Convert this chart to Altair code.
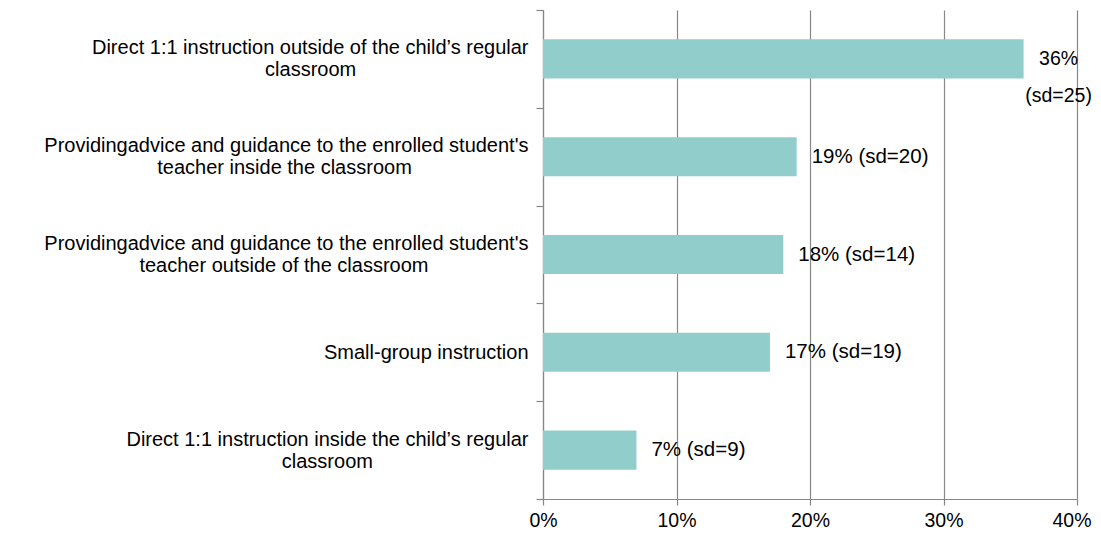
import altair as alt
import pandas as pd

# ---- data ----
label_lines = [
    ["Direct 1:1 instruction outside of the child\u2019s regular", "classroom"],
    ["Providingadvice and guidance to the enrolled student's", "teacher inside the classroom"],
    ["Providingadvice and guidance to the enrolled student's", "teacher outside of the classroom"],
    ["Small-group instruction"],
    ["Direct 1:1 instruction inside the child\u2019s regular", "classroom"],
]
values = [36, 19, 18, 17, 7]          # percent
sds = [25, 20, 14, 19, 9]
x_ticks = [0, 10, 20, 30, 40]

# approximate Arial / Liberation Sans advance widths (1/1000 em), used only to
# centre the second line of each right-aligned axis label under the first one
W = {' ': 278, '\u00a0': 278, 'a': 556, 'b': 556, 'c': 500, 'd': 556, 'e': 556,
     'f': 278, 'g': 556, 'h': 556, 'i': 222, 'j': 222, 'k': 500, 'l': 222,
     'm': 833, 'n': 556, 'o': 556, 'p': 556, 'q': 556, 'r': 333, 's': 500,
     't': 278, 'u': 556, 'v': 500, 'w': 722, 'x': 500, 'y': 500, 'z': 500,
     'D': 722, 'P': 667, 'S': 667, ':': 278, '1': 556, '\u2019': 222,
     "'": 191, '-': 333}


def tw(s):
    return sum(W.get(c, 556) for c in s)


def make_label(lines):
    if len(lines) == 1:
        return lines[0]
    first, second = lines
    n = round((tw(first) - tw(second)) / 2 / W['\u00a0'])
    # trailing no-break spaces, closed by a zero-width space so they are kept
    return first + "\n" + second + "\u00a0" * max(n, 0) + "\u200b"


cats = [make_label(l) for l in label_lines]
labels = [
    (f"{v}%\n(sd={s})" if v >= 30 else f"{v}% (sd={s})")
    for v, s in zip(values, sds)
]

df = pd.DataFrame({"cat": cats, "value": values, "sd": sds, "label": labels})

GRAY = "#878787"
FONT = "Liberation Sans"

y_enc = alt.Y(
    "cat:N",
    sort=cats,
    title=None,
    scale=alt.Scale(paddingInner=0, paddingOuter=0),
    axis=alt.Axis(
        labelExpr="split(datum.label, '\\n')",
        labelAlign="right",
        labelBaseline="middle",
        labelLineHeight=22,
        labelFontSize=20,
        labelFont=FONT,
        labelColor="#000000",
        labelLimit=700,
        labelPadding=8,
        labelOffset={
            "condition": {"test": "indexof(datum.label, '\\n') >= 0", "value": -11},
            "value": 0,
        },
        tickBand="extent",
        tickSize=7,
        tickColor=GRAY,
        tickWidth=1.2,
        domainColor=GRAY,
        domainWidth=1.2,
        grid=False,
    ),
)

x_enc = alt.X(
    "value:Q",
    title=None,
    scale=alt.Scale(domain=[0, 40], nice=False),
    axis=alt.Axis(
        values=x_ticks,
        labelExpr="datum.value + '%'",
        labelFontSize=19.5,
        labelFont=FONT,
        labelColor="#000000",
        labelFlush=True,
        labelFlushOffset=14,
        labelPadding=6,
        tickSize=6,
        tickColor=GRAY,
        tickWidth=1.2,
        domainColor=GRAY,
        domainWidth=1.2,
        grid=True,
        gridColor=GRAY,
        gridWidth=1.2,
    ),
)

base = alt.Chart(df).encode(y=y_enc)

bars = base.mark_bar(color="#91CECB", height={"band": 0.4}).encode(x=x_enc)

single = (
    base.transform_filter("datum.value < 30")
    .mark_text(align="left", baseline="middle", dx=15, fontSize=20.5, font=FONT,
               color="#000000")
    .encode(x=alt.X("value:Q"), text="label:N")
)

wrapped = (
    base.transform_filter("datum.value >= 30")
    .mark_text(align="center", baseline="middle", dx=35, dy=0, lineHeight=37,
               lineBreak="\n", fontSize=19.5, font=FONT, color="#000000")
    .encode(x=alt.X("value:Q"), text="label:N")
)

chart = (
    alt.layer(bars, single, wrapped)
    .properties(
        width=534,
        height=489,
        autosize=alt.AutoSizeParams(type="none"),
        padding={"left": 535, "top": 2, "right": 16, "bottom": 36},
    )
    .configure_view(stroke=None)
)

chart.save("out.html", embed_options={"renderer": "svg", "actions": False})
